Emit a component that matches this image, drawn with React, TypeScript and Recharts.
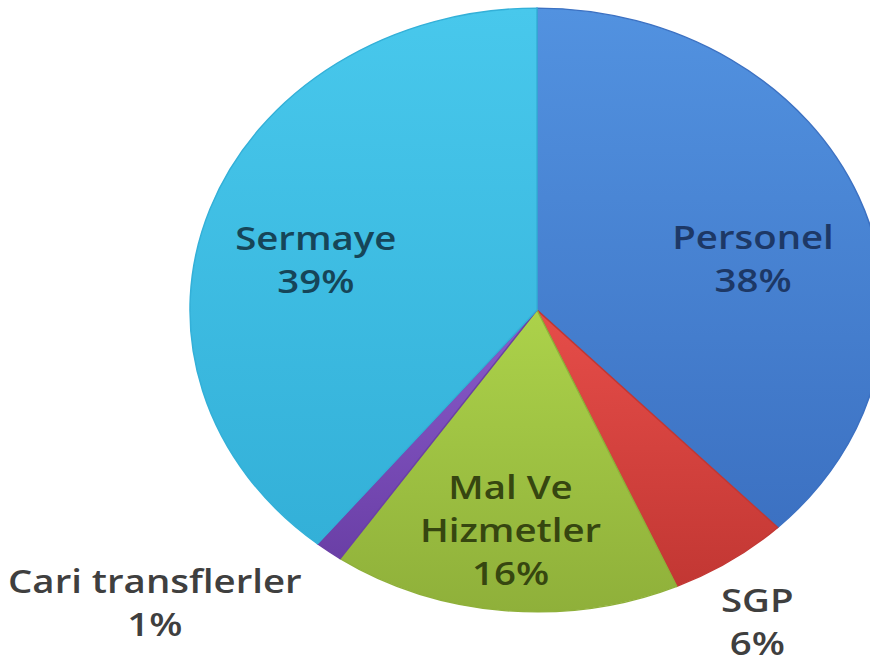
import React from 'react';
import { PieChart, Pie, Cell, Sector } from 'recharts';

const NAMES = ['Personel', 'SGP', 'Mal Ve\nHizmetler', 'Cari transflerler', 'Sermaye'];
const VALUES = [37.8, 5.6, 16.2, 1.3, 39.1];
const COLORS_LIGHT = ['#5292e0', '#e64d49', '#acd24a', '#8a5bcb', '#48c8ec'];
const COLORS_DARK = ['#3c71c2', '#c23733', '#8fb03a', '#6a3fa6', '#33b0d8'];
const TEXT_COLORS = ['#1d3866', '#3f3f3f', '#364610', '#3f3f3f', '#164558'];

// label placement: angle nudge (deg, clockwise) and radius factor
const LABEL_NUDGE = [6.5, 2.2, 0.6, 11.8, -4.6];
const LABEL_RADIUS = [0.646, 1.21, 0.73, 1.466, 0.66];

const SQUASH = 0.87;
const TEXT_STRETCH = 1.2;
const RAD = Math.PI / 180;
const LINE_H = 43;

const data = NAMES.map((name, i) => ({ name, value: VALUES[i] }));

const renderShape = (props: any) => {
  const { cx, cy } = props;
  return (
    <g transform={`translate(0 ${cy}) scale(1 ${SQUASH}) translate(0 ${-cy})`}>
      <Sector {...props} cx={cx} cy={cy} />
    </g>
  );
};

const renderLabel = (props: any) => {
  const { cx, cy, midAngle, outerRadius, percent, index } = props;
  const clock = 90 - midAngle + LABEL_NUDGE[index];
  const r = outerRadius * LABEL_RADIUS[index];
  const x = cx + r * Math.sin(clock * RAD);
  const y = cy - r * Math.cos(clock * RAD) * SQUASH;
  const lines = [...NAMES[index].split('\n'), `${Math.round(percent * 100)}%`];
  const top = y - ((lines.length - 1) * LINE_H) / 2;
  return (
    <g transform={`translate(${x} 0) scale(${TEXT_STRETCH} 1) translate(${-x} 0)`}>
      <text
        x={x}
        y={top}
        textAnchor="middle"
        dominantBaseline="central"
        fill={TEXT_COLORS[index]}
        fontFamily="'Open Sans', Lato, sans-serif"
        fontWeight={600}
        fontSize={32}
      >
        {lines.map((l, k) => (
          <tspan key={k} x={x} y={top + k * LINE_H}>
            {l}
          </tspan>
        ))}
      </text>
    </g>
  );
};

export default function App() {
  return (
    <div style={{ position: 'absolute', left: 0, top: 0, width: 870, height: 668, background: '#fff', overflow: 'hidden' }}>
      <PieChart width={870} height={668} margin={{ top: 0, right: 0, bottom: 0, left: 0 }}>
        <defs>
          {COLORS_LIGHT.map((c, i) => (
            <linearGradient key={i} id={`g${i}`} x1="0" y1="0" x2="0" y2="1">
              <stop offset="0%" stopColor={c} />
              <stop offset="100%" stopColor={COLORS_DARK[i]} />
            </linearGradient>
          ))}
        </defs>
        <Pie
          data={data}
          dataKey="value"
          nameKey="name"
          cx={537}
          cy={310}
          outerRadius={347}
          startAngle={90}
          endAngle={-270}
          shape={renderShape}
          label={renderLabel}
          labelLine={false}
          isAnimationActive={false}
        >
          {data.map((d, i) => (
            <Cell key={d.name} fill={`url(#g${i})`} stroke={COLORS_DARK[i]} strokeWidth={1.5} />
          ))}
        </Pie>
      </PieChart>
    </div>
  );
}
